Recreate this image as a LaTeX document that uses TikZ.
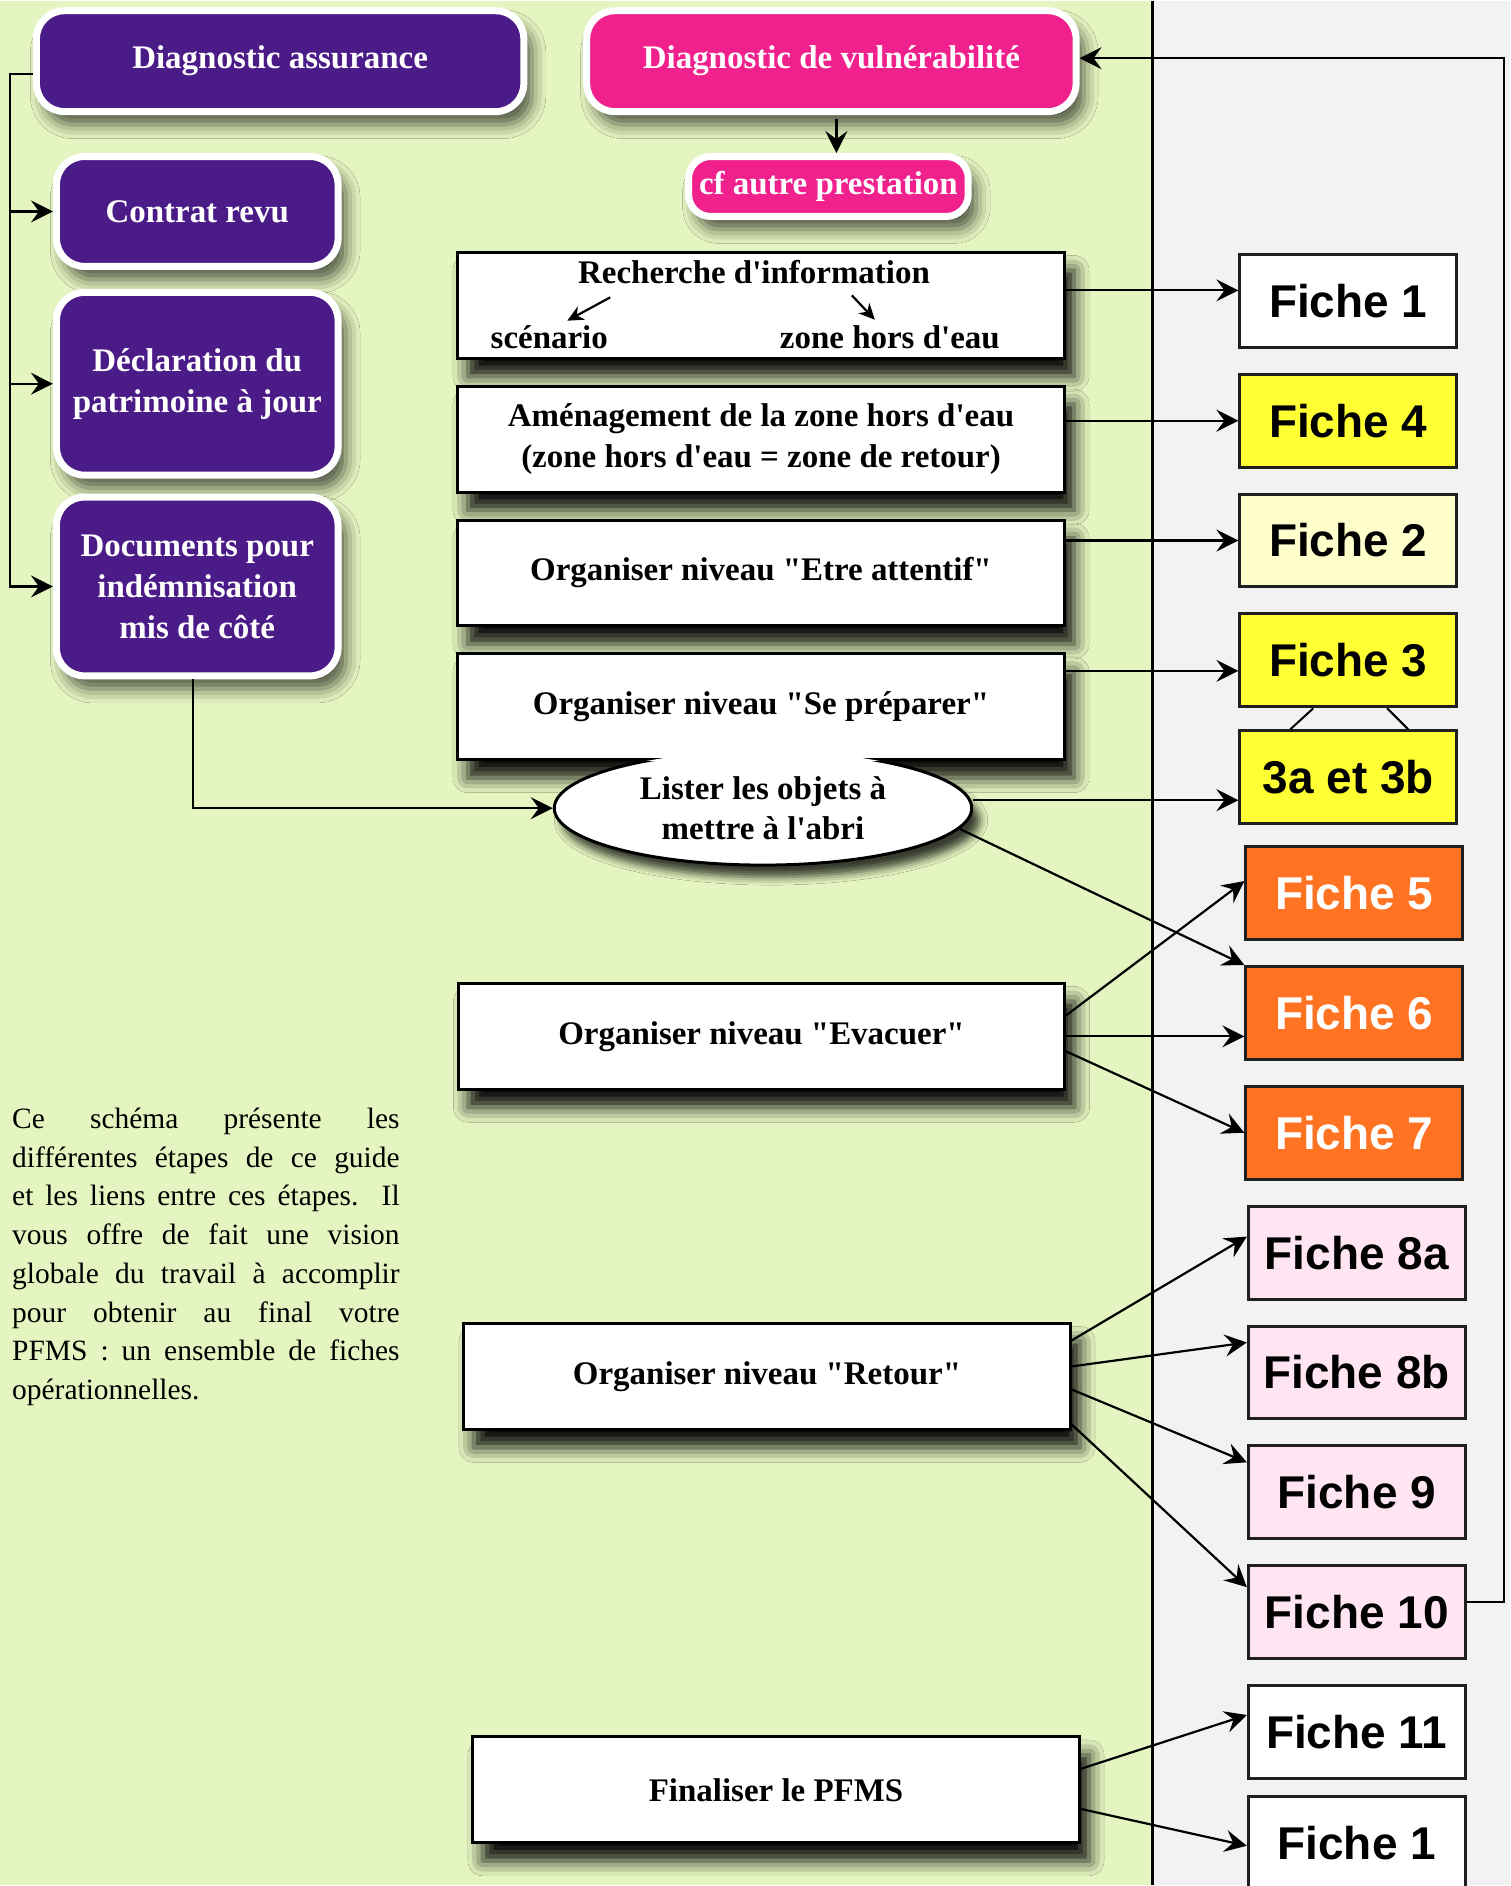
\documentclass[tikz,border=0pt]{standalone}
\usepackage{fontspec}
\setmainfont{Liberation Serif}
\newfontfamily\fichefont{Liberation Sans}
\usetikzlibrary{arrows.meta, positioning, shapes.geometric, shadows.blur}

\definecolor{fondvert}{HTML}{E5F5C1}
\definecolor{fondgris}{HTML}{F2F2F2}
\definecolor{assurviolet}{HTML}{4B1C88}
\definecolor{vulnrose}{HTML}{F0208C}
\definecolor{jaunevif}{HTML}{FFFF33}
\definecolor{jaunepale}{HTML}{FFFFCC}
\definecolor{orangefiche}{HTML}{FF7322}
\definecolor{rosepale}{HTML}{FFE5F2}
\definecolor{bordfiche}{HTML}{1F1F1F}

\newcommand\boxfont{\fontsize{33}{41}\selectfont\bfseries}
\newcommand\fichetext{\fichefont\fontsize{46}{50}\selectfont\bfseries}
\newcommand\paratext{\fontsize{29.5}{38.8}\selectfont\hyphenpenalty=10000\tolerance=9999}
\newcommand\apo{\textquotesingle}
\newcommand\qq{\textquotedbl}

\begin{document}
\begin{tikzpicture}[x=1pt, y=-1pt, >={Stealth[length=22pt, width=22pt, inset=8pt]}, node distance=24pt]
    \tikzset{
        diag/.style={rectangle, rounded corners=28pt, draw=white, line width=7pt, text=white,
            font=\boxfont, align=center, inner sep=4pt,
            blur shadow={shadow xshift=8pt, shadow yshift=-13pt, shadow blur radius=14pt, shadow opacity=65}},
        etape/.style={rectangle, draw=black, line width=3pt, fill=white, minimum width=607pt,
            minimum height=106pt, font=\boxfont, align=center,
            blur shadow={shadow xshift=10pt, shadow yshift=-18pt, shadow blur radius=15pt, shadow opacity=95}},
        fiche/.style={rectangle, draw=bordfiche, line width=3pt, minimum width=217pt,
            minimum height=93pt, font=\fichetext, inner sep=0pt},
        lien/.style={->, line width=2.2pt},
        petitlien/.style={->, line width=2.2pt, >={Stealth[length=16pt, width=15pt, inset=5pt]}}
    }
    % fond
    \fill[fondvert] (0,0) rectangle (1154,1886);
    \fill[fondgris] (1154,0) rectangle (1512,1886);
    \draw[line width=2.5pt] (1154,0) -- (1154,1886);
    \useasboundingbox (0,0) rectangle (1512,1886);

    % diagnostics
    \node[diag, fill=assurviolet, minimum width=488pt, minimum height=101pt] (diagA) at (280.5,60) {Diagnostic assurance};
    \node[diag, fill=vulnrose, minimum width=490pt, minimum height=101pt] (vuln) at (832.5,60) {Diagnostic de vulnérabilité};
    \node[diag, fill=vulnrose, rounded corners=22pt, minimum width=280pt, minimum height=60pt] (cf) at (829.5,185.5) {cf autre prestation};
    \node[diag, fill=assurviolet, minimum width=282pt, minimum height=110pt] (contrat) at (197.5,210.5) {Contrat revu};
    \node[diag, fill=assurviolet, minimum width=282pt, minimum height=183pt, below=19pt of contrat] (decl) {Déclaration du\\patrimoine à jour};
    \node[diag, fill=assurviolet, minimum width=282pt, minimum height=179pt, below=15pt of decl] (docs) {Documents pour\\indémnisation\\mis de côté};

    % etapes
    \node[etape] (rech) at (762,304.5) {};
    \node[etape, below=25pt of rech] (amen) {Aménagement de la zone hors d\apo eau\\(zone hors d\apo eau = zone de retour)};
    \node[etape, below=25pt of amen] (attentif) {Organiser niveau \qq Etre attentif\qq};
    \node[etape, below=25pt of attentif] (prep) {Organiser niveau \qq Se préparer\qq};
    \node[etape] (evac) at (762.5,1036.5) {Organiser niveau \qq Evacuer\qq};
    \node[etape] (retour) at (768,1377) {Organiser niveau \qq Retour\qq};
    \node[etape] (final) at (777,1791) {Finaliser le PFMS};

    \node[font=\boxfont, anchor=base, inner sep=0pt] (rtitre) at (755,283) {Recherche d\apo information};
    \node[font=\boxfont, anchor=base, inner sep=0pt] (scen) at (550,348) {scénario};
    \node[font=\boxfont, anchor=base, inner sep=0pt] (zhe) at (891,348) {zone hors d\apo eau};
    \draw[petitlien] ([xshift=-144pt, yshift=-13pt]rtitre.south) -- ([xshift=18pt, yshift=5pt]scen.north);
    \draw[petitlien] ([xshift=98pt, yshift=-11pt]rtitre.south) -- ([xshift=-15pt, yshift=6pt]zhe.north);

    % bulle sous "Se preparer"
    \node[ellipse, fill=white, minimum width=418pt, minimum height=114pt, inner sep=0pt, outer sep=1.5pt,
        font=\boxfont, align=center,
        blur shadow={shadow xshift=8pt, shadow yshift=-12pt, shadow blur radius=8pt, shadow opacity=75}] (lister) at (764,808) {Lister les objets à\\mettre à l\apo abri};
    \begin{scope}
        \clip (prep.south west) rectangle ([yshift=-150pt]prep.south east);
        \draw[line width=3pt] (lister.center) ellipse [x radius=209pt, y radius=57pt];
    \end{scope}

    % fiches
    \node[fiche, fill=white] (f1) at (1350,300) {Fiche 1};
    \node[fiche, fill=jaunevif, below=of f1] (f4) {Fiche 4};
    \node[fiche, fill=jaunepale, below=of f4] (f2) {Fiche 2};
    \node[fiche, fill=jaunevif, below=of f2] (f3) {Fiche 3};
    \node[fiche, fill=jaunevif, below=21pt of f3] (f3ab) {3a et 3b};
    \node[fiche, fill=orangefiche, text=white, below=20pt of f3ab, xshift=6pt] (f5) {Fiche 5};
    \node[fiche, fill=orangefiche, text=white, below=of f5] (f6) {Fiche 6};
    \node[fiche, fill=orangefiche, text=white, below=of f6] (f7) {Fiche 7};
    \node[fiche, fill=rosepale, below=of f7, xshift=2.5pt] (f8a) {Fiche 8a};
    \node[fiche, fill=rosepale, below=of f8a] (f8b) {Fiche 8b};
    \node[fiche, fill=rosepale, below=of f8b] (f9) {Fiche 9};
    \node[fiche, fill=rosepale, below=of f9] (f10) {Fiche 10};
    \node[fiche, fill=white, below=of f10] (f11) {Fiche 11};
    \node[fiche, fill=white, below=15pt of f11] (f1b) {Fiche 1};
    \draw[line width=2pt] ([xshift=-35pt]f3.south) -- ([xshift=-58pt]f3ab.north);
    \draw[line width=2pt] ([xshift=39pt]f3.south) -- ([xshift=60pt]f3ab.north);

    % texte
    \node[anchor=north west, text width=388pt, align=justify, inner sep=0pt, font=\paratext] (explication) at (12,1108)
        {Ce schéma présente les\linebreak différentes étapes de ce guide\linebreak et les liens entre ces étapes. Il\linebreak vous offre de fait une vision\linebreak globale du travail à accomplir\linebreak pour obtenir au final votre\linebreak PFMS : un ensemble de fiches\linebreak opérationnelles.};

    % liens
    \coordinate (brk) at (10,73);
    \draw[lien] ([yshift=-13pt]diagA.west) -- (brk) |- (docs.west);
    \draw[lien] (brk |- contrat.west) -- (contrat.west);
    \draw[lien] (brk |- decl.west) -- (decl.west);
    \draw[lien] ([xshift=-4pt]docs.south) |- (lister.west);
    \draw[lien] ([xshift=5pt, yshift=-4pt]vuln.south) -- ([xshift=5pt]vuln.south |- cf.north);

    \draw[lien] ([yshift=15pt]rech.east) -- ([yshift=15pt]rech.east -| f1.west);
    \draw[lien] (amen.east |- f4.west) -- (f4.west);
    \draw[lien] (attentif.east |- f2.west) -- (f2.west);
    \draw[lien] ([yshift=36pt]prep.east) -- ([yshift=36pt]prep.east -| f3.west);
    \draw[lien] ([yshift=8pt]lister.east) -- ([yshift=8pt]lister.east -| f3ab.west);
    \draw[lien] (lister.-6) -- (f6.north west);
    \draw[lien] ([yshift=21pt]evac.east) -- ([yshift=12pt]f5.west);
    \draw[lien] (evac.east) -- (evac.east -| f6.west);
    \draw[lien] ([yshift=-15pt]evac.east) -- (f7.west);
    \draw[lien] ([yshift=36pt]retour.east) -- ([yshift=16pt]f8a.west);
    \draw[lien] ([yshift=10pt]retour.east) -- ([yshift=30pt]f8b.west);
    \draw[lien] ([yshift=-13pt]retour.east) -- ([yshift=30pt]f9.west);
    \draw[lien] ([yshift=-48pt]retour.east) -- ([yshift=25pt]f10.west);
    \draw[lien] ([yshift=21pt]final.east) -- ([yshift=17pt]f11.west);
    \draw[lien] ([yshift=-19pt]final.east) -- ([yshift=-3pt]f1b.west);

    \coordinate (retourhaut) at (1506,57);
    \draw[lien] ([yshift=10pt]f10.east) -| (retourhaut) -- (vuln.east |- retourhaut);
\end{tikzpicture}
\end{document}
